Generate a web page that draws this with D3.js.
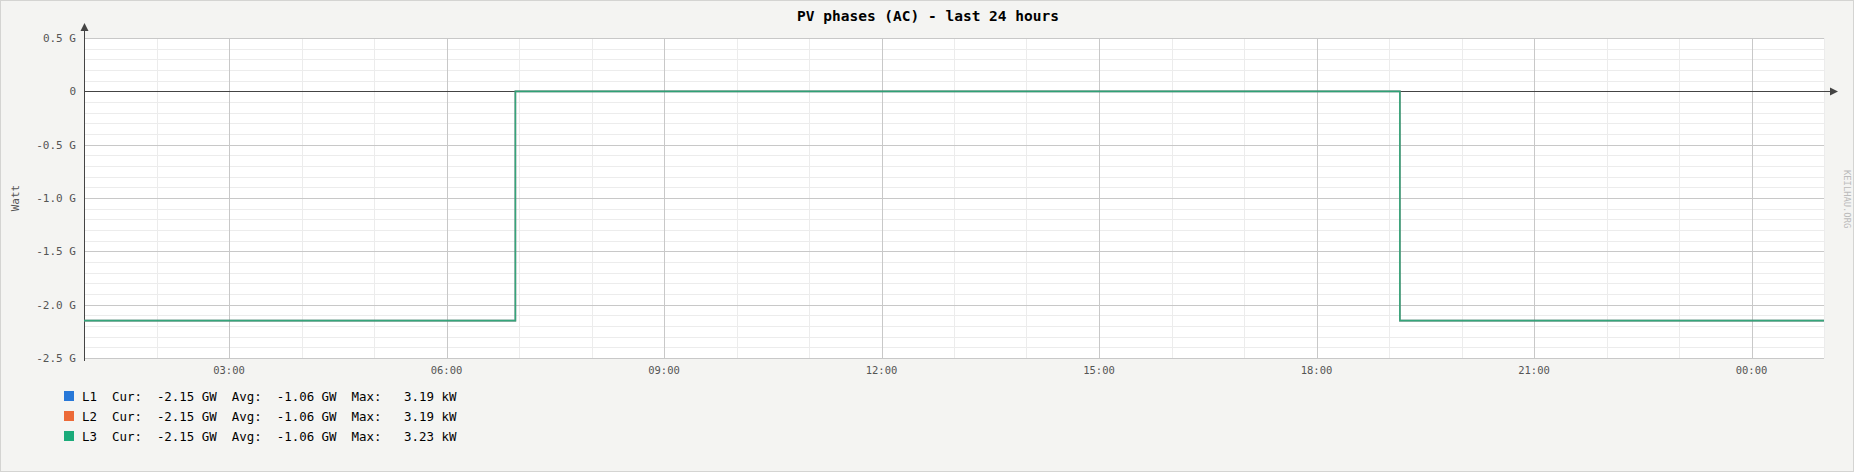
<!DOCTYPE html>
<html>
<head>
<meta charset="utf-8">
<script src="https://cdn.jsdelivr.net/npm/d3@7"></script>
<style>
  body { margin: 0; background: #fff; }
  svg text { font-family: "DejaVu Sans Mono", monospace; }
</style>
</head>
<body>
<script>
// chart data
const seriesNames = ["L1", "L2", "L3"];
const seriesColors = ["#2878d8", "#ec6a38", "#1bab7a"];
const stepTimes = ["2024-01-01T01:00", "2024-01-01T06:57", "2024-01-01T19:09", "2024-01-02T01:00"];
const valuesL1 = [-2.15e9, 3190, -2.15e9, -2.15e9];
const valuesL2 = [-2.15e9, 3190, -2.15e9, -2.15e9];
const valuesL3 = [-2.15e9, 3230, -2.15e9, -2.15e9];
const legendCur = ["-2.15 GW", "-2.15 GW", "-2.15 GW"];
const legendAvg = ["-1.06 GW", "-1.06 GW", "-1.06 GW"];
const legendMax = ["3.19 kW", "3.19 kW", "3.23 kW"];
const yTicks = [0.5e9, 0, -0.5e9, -1.0e9, -1.5e9, -2.0e9, -2.5e9];

// create svg canvas
const canvWidth = 1856, canvHeight = 474;
const svg = d3.select("body").append("svg")
    .attr("width", canvWidth)
    .attr("height", canvHeight);

svg.append("rect")
    .attr("x", 0.5).attr("y", 0.5)
    .attr("width", canvWidth - 3).attr("height", canvHeight - 3)
    .attr("fill", "#f4f4f2")
    .attr("stroke", "#d4d4d2");

const margin = {top: 38, right: 32, bottom: 116, left: 84};
const width = canvWidth - margin.left - margin.right;
const height = canvHeight - margin.top - margin.bottom;

const parse = d3.timeParse("%Y-%m-%dT%H:%M");
const times = stepTimes.map(parse);

const xScale = d3.scaleTime()
    .domain([times[0], times[times.length - 1]])
    .range([0, width]);
const yScale = d3.scaleLinear()
    .domain([-2.5e9, 0.5e9])
    .range([height, 0]);

const g = svg.append("g")
    .attr("transform", "translate(" + margin.left + "," + margin.top + ")");

g.append("rect")
    .attr("width", width).attr("height", height)
    .attr("fill", "#ffffff");

// minor grid
g.append("g").selectAll("line")
    .data(d3.range(-25, 6).map(d => d * 1e8))
    .join("line")
    .attr("x1", 0).attr("x2", width)
    .attr("y1", d => Math.round(yScale(d)) + 0.5)
    .attr("y2", d => Math.round(yScale(d)) + 0.5)
    .attr("stroke", "#ececec");
g.append("g").selectAll("line")
    .data(xScale.ticks(d3.timeHour.every(1)))
    .join("line")
    .attr("y1", 0).attr("y2", height)
    .attr("x1", d => Math.round(xScale(d)) + 0.5)
    .attr("x2", d => Math.round(xScale(d)) + 0.5)
    .attr("stroke", "#ececec");

// major grid
const xMajor = xScale.ticks(d3.timeHour.every(3)).filter(d => xScale(d) > 1 && xScale(d) < width - 1);
g.append("g").selectAll("line")
    .data(yTicks)
    .join("line")
    .attr("x1", 0).attr("x2", width)
    .attr("y1", d => Math.round(yScale(d)) + 0.5)
    .attr("y2", d => Math.round(yScale(d)) + 0.5)
    .attr("stroke", "#c8c8c8");
g.append("g").selectAll("line")
    .data(xMajor)
    .join("line")
    .attr("y1", 0).attr("y2", height)
    .attr("x1", d => Math.round(xScale(d)) + 0.5)
    .attr("x2", d => Math.round(xScale(d)) + 0.5)
    .attr("stroke", "#c8c8c8");

// y tick labels
g.append("g").selectAll("text")
    .data(yTicks)
    .join("text")
    .attr("x", -8)
    .attr("y", d => yScale(d))
    .attr("dy", "0.35em")
    .attr("text-anchor", "end")
    .attr("font-size", "11px")
    .attr("fill", "#555")
    .text(d => d === 0 ? "0" : (d / 1e9).toFixed(1) + " G");

// x tick labels
g.append("g").selectAll("text")
    .data(xMajor)
    .join("text")
    .attr("x", d => xScale(d))
    .attr("y", height + 16)
    .attr("text-anchor", "middle")
    .attr("font-size", "10.5px")
    .attr("fill", "#555")
    .text(d3.timeFormat("%H:%M"));

// axes lines with arrows
const zeroY = Math.round(yScale(0)) + 0.5;
g.append("line")
    .attr("x1", 0).attr("x2", width + 8)
    .attr("y1", zeroY).attr("y2", zeroY)
    .attr("stroke", "#444");
g.append("path")
    .attr("d", "M" + (width + 6) + "," + (zeroY - 4) + "L" + (width + 14) + "," + zeroY + "L" + (width + 6) + "," + (zeroY + 4) + "Z")
    .attr("fill", "#444");
g.append("line")
    .attr("x1", 0.5).attr("x2", 0.5)
    .attr("y1", -8).attr("y2", height + 3)
    .attr("stroke", "#444");
g.append("path")
    .attr("d", "M-3.5,-7L0.5,-15L4.5,-7Z")
    .attr("fill", "#444");

// series
const allValues = [valuesL1, valuesL2, valuesL3];
const seriesOpacity = [0.6, 0.6, 0.85];
const line = d3.line()
    .x(d => xScale(d[0]))
    .y(d => yScale(d[1]))
    .curve(d3.curveStepAfter);

allValues.forEach(function (vals, i) {
    g.append("path")
        .datum(times.map((t, k) => [t, vals[k]]))
        .attr("d", line)
        .attr("fill", "none")
        .attr("stroke", seriesColors[i])
        .attr("stroke-width", 1.6)
        .attr("stroke-opacity", seriesOpacity[i]);
});

// title
svg.append("text")
    .attr("x", canvWidth / 2)
    .attr("y", 21)
    .attr("text-anchor", "middle")
    .attr("font-size", "14.5px")
    .attr("font-weight", "bold")
    .attr("fill", "#000")
    .text("PV phases (AC) - last 24 hours");

// y axis title
svg.append("text")
    .attr("transform", "translate(19," + (margin.top + height / 2) + ") rotate(-90)")
    .attr("text-anchor", "middle")
    .attr("font-size", "11px")
    .attr("fill", "#555")
    .text("Watt");

// watermark
svg.append("text")
    .attr("transform", "translate(1844,170) rotate(90)")
    .attr("font-size", "8.8px")
    .attr("fill", "#bbb")
    .text("KEILHAU.ORG");

// legend
const legend = svg.append("g")
    .attr("transform", "translate(64,391)");
seriesNames.forEach(function (name, i) {
    legend.append("rect")
        .attr("x", 0).attr("y", i * 20)
        .attr("width", 10).attr("height", 10)
        .attr("fill", seriesColors[i]);
    legend.append("text")
        .attr("x", 18).attr("y", i * 20 + 9.5)
        .attr("font-size", "12.45px")
        .attr("fill", "#000")
        .style("white-space", "pre")
        .text(name + "  Cur:  " + legendCur[i] + "  Avg:  " + legendAvg[i] + "  Max:   " + legendMax[i]);
});
</script>
</body>
</html>
